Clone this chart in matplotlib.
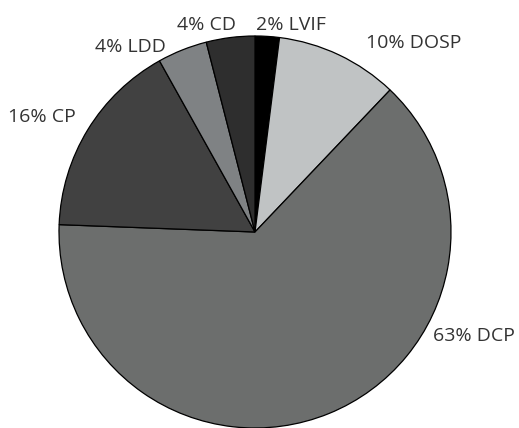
import matplotlib.pyplot as plt

# ---- data (clockwise from 12 o'clock) ----
labels = ["2% LVIF", "10% DOSP", "63% DCP", "16% CP", "4% LDD", "4% CD"]
shares = [2.0, 10.1, 63.5, 16.3, 4.1, 4.0]
colors = ["#000000", "#c0c3c4", "#6c6e6d", "#414141", "#7f8284", "#2e2e2e"]

# label anchors (left edge, baseline) in pixels of the original picture
label_px = [(256, 29.5), (366, 47.5), (433, 341), (8, 122.5), (95, 51.5), (177, 29.5)]

W, H = 519, 428
cx, cy, R = 255, 232, 196

plt.rcParams['font.family'] = ['Open Sans', 'DejaVu Sans']

fig = plt.figure(figsize=(W / 100, H / 100), dpi=100)
ax = fig.add_axes([0, 0, 1, 1])

ax.pie(shares, colors=colors, startangle=90, counterclock=False,
       wedgeprops=dict(edgecolor="black", linewidth=0.9))

ax.set_xlim(-cx / R, (W - cx) / R)
ax.set_ylim(-(H - cy) / R, cy / R)
ax.set_aspect('auto')
ax.axis('off')

for lab, (px, py) in zip(labels, label_px):
    ax.text((px - cx) / R, (cy - py) / R, lab, ha='left', va='baseline',
            fontsize=14, color="#333333")

fig.savefig("out.png", dpi=100)
